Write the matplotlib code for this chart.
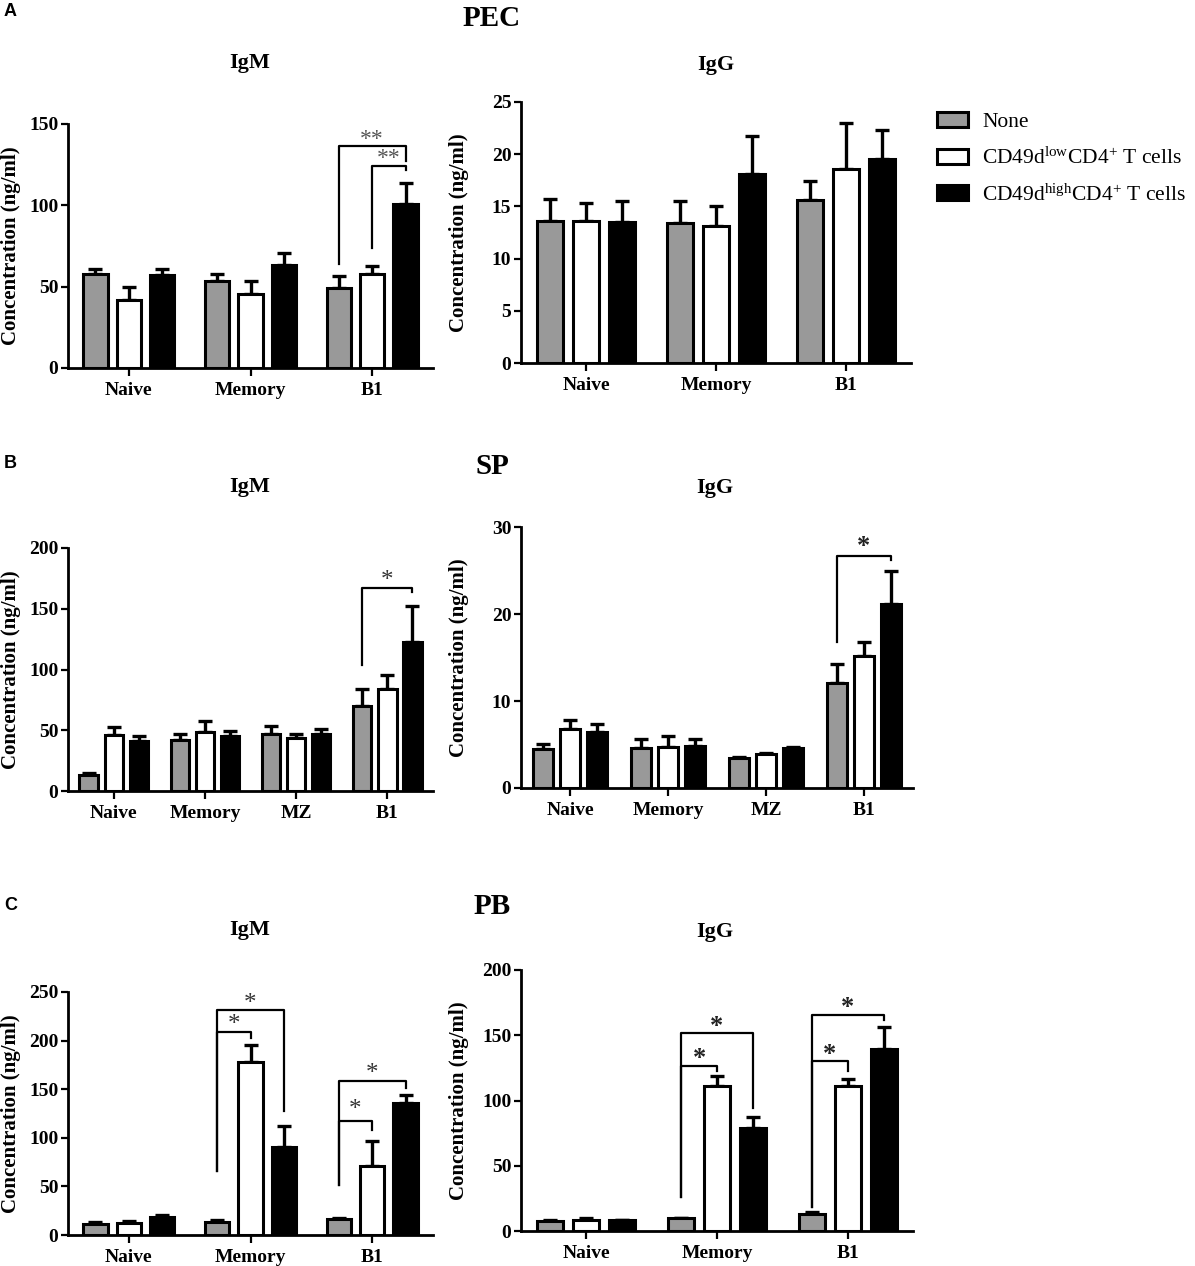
import matplotlib
matplotlib.use("Agg")
import matplotlib.pyplot as plt
from matplotlib.patches import Patch
import numpy as np

plt.rcParams['font.family'] = ['Liberation Serif', 'DejaVu Serif']
plt.rcParams['mathtext.fontset'] = 'custom'
plt.rcParams['mathtext.rm'] = 'Liberation Serif'
plt.rcParams['mathtext.default'] = 'regular'

# ---------------- data ----------------
series_names = ["None", r"CD49d$^{low}$CD4$^{+}$ T cells", r"CD49d$^{high}$CD4$^{+}$ T cells"]
series_colors = ["#999999", "#ffffff", "#000000"]

groups3 = ["Naive", "Memory", "B1"]
groups4 = ["Naive", "Memory", "MZ", "B1"]

# PEC IgM
pec_igm_none = [57.7, 53.4, 49.3]
pec_igm_none_err = [3.3, 4.6, 7.3]
pec_igm_low = [41.7, 45.6, 57.7]
pec_igm_low_err = [8.0, 7.8, 5.3]
pec_igm_high = [57.0, 63.2, 100.6]
pec_igm_high_err = [3.7, 7.2, 13.4]

# PEC IgG
pec_igg_none = [13.6, 13.4, 15.6]
pec_igg_none_err = [2.1, 2.1, 1.8]
pec_igg_low = [13.6, 13.1, 18.6]
pec_igg_low_err = [1.7, 1.9, 4.4]
pec_igg_high = [13.5, 18.1, 19.5]
pec_igg_high_err = [2.0, 3.6, 2.8]

# SP IgM
sp_igm_none = [12.9, 41.8, 47.3, 70.2]
sp_igm_none_err = [2.0, 5.5, 6.1, 14.0]
sp_igm_low = [45.9, 48.7, 44.0, 83.6]
sp_igm_low_err = [6.4, 8.8, 2.8, 11.6]
sp_igm_high = [41.0, 45.1, 46.8, 123.0]
sp_igm_high_err = [4.4, 4.4, 4.1, 28.9]

# SP IgG
sp_igg_none = [4.44, 4.64, 3.45, 12.1]
sp_igg_none_err = [0.66, 0.96, 0.1, 2.1]
sp_igg_low = [6.74, 4.7, 3.95, 15.2]
sp_igg_low_err = [1.04, 1.24, 0.1, 1.6]
sp_igg_high = [6.44, 4.8, 4.64, 21.2]
sp_igg_high_err = [0.88, 0.87, 0.1, 3.7]

# PB IgM
pb_igm_none = [11.3, 13.7, 16.8]
pb_igm_none_err = [2.1, 2.1, 0.7]
pb_igm_low = [12.0, 177.5, 71.1]
pb_igm_low_err = [2.4, 17.5, 25.7]
pb_igm_high = [18.2, 91.0, 135.6]
pb_igm_high_err = [2.1, 21.6, 8.6]

# PB IgG
pb_igg_none = [7.4, 10.0, 13.3]
pb_igg_none_err = [0.8, 0.3, 1.3]
pb_igg_low = [8.7, 111.0, 111.3]
pb_igg_low_err = [1.5, 7.9, 4.8]
pb_igg_high = [8.2, 79.0, 139.4]
pb_igg_high_err = [0.3, 8.0, 17.1]

# significance brackets: (group, bar_a, bar_b, y_top, y_end_a, y_end_b, label, y_star)
pec_igm_sig = [(2, 0, 2, 136.7, 64.0, 127.0, "**", 142.0), (2, 1, 2, 124.4, 73.5, 121.7, "**", 130.0)]
pec_igg_sig = []
sp_igm_sig = [(3, 0, 2, 167.0, 104.0, 163.4, "*", 175.0)]
sp_igg_sig = [(3, 0, 2, 26.7, 16.8, 26.2, "*", 28.0)]
pb_igm_sig = [(1, 0, 2, 231.0, 66.3, 128.0, "*", 240.0), (1, 0, 1, 209.0, 66.3, 202.6, "*", 218.0),
              (2, 0, 2, 158.0, 51.5, 151.0, "*", 168.3), (2, 0, 1, 117.4, 51.5, 108.0, "*", 131.0)]
pb_igg_sig = [(1, 0, 2, 151.4, 26.0, 93.9, "*", 158.3), (1, 0, 1, 126.6, 26.0, 122.8, "*", 133.5),
              (2, 0, 2, 165.5, 18.4, 161.6, "*", 172.6), (2, 0, 1, 130.0, 18.4, 122.8, "*", 136.6)]

y_ticks_pec_igm = [0, 50, 100, 150]
y_ticks_pec_igg = [0, 5, 10, 15, 20, 25]
y_ticks_sp_igm = [0, 50, 100, 150, 200]
y_ticks_sp_igg = [0, 10, 20, 30]
y_ticks_pb_igm = [0, 50, 100, 150, 200, 250]
y_ticks_pb_igg = [0, 50, 100, 150, 200]

# ---------------- layout ----------------
W, H = 1195, 1266
fig = plt.figure(figsize=(W / 100, H / 100), dpi=100)

def px_axes(l, t, r, b):
    return fig.add_axes([l / W, 1 - b / H, (r - l) / W, (b - t) / H])

OFFS = [-0.275, 0.0, 0.275]
BW = 0.2

def draw_panel(box, title, title_xy, groups, vals, errs, yticks, sigs, star_color, star_weight, star_size):
    ax = px_axes(*box)
    x = np.arange(len(groups))
    for k in range(3):
        xs = x + OFFS[k]
        ax.errorbar(xs, vals[k], yerr=[np.zeros(len(groups)), errs[k]], fmt='none',
                    ecolor='black', elinewidth=2.4, capsize=5, capthick=2.4, zorder=1)
        ax.bar(xs, vals[k], width=BW, color=series_colors[k], edgecolor='black',
               linewidth=2.2, zorder=2)
    ax.set_xlim(-0.5, len(groups) - 0.5)
    ax.set_ylim(yticks[0], yticks[-1])
    ax.set_yticks(yticks)
    ax.set_xticks(x)
    ax.set_xticklabels(groups, fontsize=14, fontweight='bold')
    for lab in ax.get_yticklabels():
        lab.set_fontsize(14)
        lab.set_fontweight('bold')
    for s in ['top', 'right']:
        ax.spines[s].set_visible(False)
    for s in ['left', 'bottom']:
        ax.spines[s].set_linewidth(2.0)
    ax.tick_params(axis='y', direction='out', length=5, width=1.6, pad=2)
    ax.tick_params(axis='x', direction='out', length=6, width=1.6, pad=4)
    ax.set_ylabel("Concentration (ng/ml)", fontsize=15, fontweight='bold')
    label_right = 21 if box[0] < 200 else 469
    ax.yaxis.set_label_coords((label_right - box[0]) / (box[2] - box[0]), 0.5)
    fig.text(title_xy[0] / W, 1 - title_xy[1] / H, title, fontsize=16, fontweight='bold',
             ha='center', va='center')
    for (g, a, b, yt, ya, yb, lab, ys) in sigs:
        xa = g + OFFS[a]
        xb = g + OFFS[b]
        ax.plot([xa, xa, xb, xb], [ya, yt, yt, yb], color='black', lw=1.6, clip_on=False, zorder=3)
        ax.annotate(lab, ((xa + xb) / 2, ys), xytext=(0, -0.33 * star_size),
                    textcoords='offset points', ha='center', va='baseline',
                    fontsize=star_size, fontweight=star_weight,
                    color=star_color, annotation_clip=False)
    return ax

draw_panel((68, 124, 433, 368), "IgM", (250, 63), groups3,
           [pec_igm_none, pec_igm_low, pec_igm_high],
           [pec_igm_none_err, pec_igm_low_err, pec_igm_high_err],
           y_ticks_pec_igm, pec_igm_sig, '#555555', 'normal', 17)
draw_panel((521, 102, 911, 363), "IgG", (716, 65), groups3,
           [pec_igg_none, pec_igg_low, pec_igg_high],
           [pec_igg_none_err, pec_igg_low_err, pec_igg_high_err],
           y_ticks_pec_igg, pec_igg_sig, '#222222', 'bold', 19)
draw_panel((68, 548, 433, 791), "IgM", (250, 487), groups4,
           [sp_igm_none, sp_igm_low, sp_igm_high],
           [sp_igm_none_err, sp_igm_low_err, sp_igm_high_err],
           y_ticks_sp_igm, sp_igm_sig, '#333333', 'normal', 18)
draw_panel((521, 527, 913, 788), "IgG", (715, 488), groups4,
           [sp_igg_none, sp_igg_low, sp_igg_high],
           [sp_igg_none_err, sp_igg_low_err, sp_igg_high_err],
           y_ticks_sp_igg, sp_igg_sig, '#222222', 'bold', 19)
draw_panel((68, 992, 433, 1235), "IgM", (250, 930), groups3,
           [pb_igm_none, pb_igm_low, pb_igm_high],
           [pb_igm_none_err, pb_igm_low_err, pb_igm_high_err],
           y_ticks_pb_igm, pb_igm_sig, '#333333', 'normal', 18)
draw_panel((521, 970, 913, 1231), "IgG", (715, 932), groups3,
           [pb_igg_none, pb_igg_low, pb_igg_high],
           [pb_igg_none_err, pb_igg_low_err, pb_igg_high_err],
           y_ticks_pb_igg, pb_igg_sig, '#222222', 'bold', 19)

# region titles
for txt, (xx, yy) in [("PEC", (492, 18)), ("SP", (492, 467)), ("PB", (492, 907))]:
    fig.text(xx / W, 1 - yy / H, txt, fontsize=21, fontweight='bold', ha='center', va='center')

# panel letters
for txt, yy in [("A", 12), ("B", 463), ("C", 905)]:
    fig.text(4 / W, 1 - yy / H, txt, fontsize=13, fontweight='bold', ha='left', va='center',
             family=['Liberation Sans', 'DejaVu Sans'])

# legend
handles = [Patch(facecolor=c, edgecolor='black', linewidth=2.2) for c in series_colors]
fig.legend(handles, series_names, loc='upper left', bbox_to_anchor=(937 / W, 1 - 112 / H),
           frameon=False, fontsize=15.5, handlelength=1.45, handleheight=0.7,
           handletextpad=0.65, labelspacing=0.72, borderpad=0, borderaxespad=0)

fig.savefig("out.png", dpi=100)
